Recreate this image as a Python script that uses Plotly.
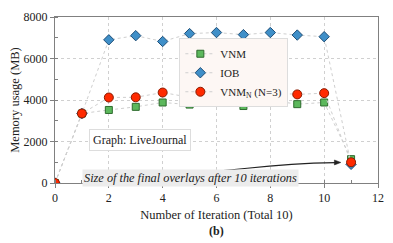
import plotly.graph_objects as go

iterations = [0, 1, 2, 3, 4, 5, 6, 7, 8, 9, 10, 11]
vnm = [0, 3350, 3520, 3670, 3880, 3780, 3870, 3710, 3990, 3800, 3880, 1150]
iob = [0, 3350, 6900, 7100, 6820, 7200, 7250, 7150, 7250, 7130, 7050, 900]
vnm_n = [0, 3350, 4120, 4130, 4360, 4130, 4130, 4270, 4360, 4270, 4330, 1000]

FONT = "Liberation Serif, DejaVu Serif, serif"
line_style = dict(color="#cfcfcf", width=1, dash="dot")

fig = go.Figure()
fig.add_trace(go.Scatter(x=iterations, y=vnm, mode="lines+markers", name="VNM",
                         line=line_style,
                         marker=dict(symbol="square", size=7, color="#5cb85c",
                                     line=dict(color="#2e6b2e", width=1))))
fig.add_trace(go.Scatter(x=iterations, y=iob, mode="lines+markers", name="IOB",
                         line=line_style,
                         marker=dict(symbol="diamond", size=8, color="#3f8fc8",
                                     line=dict(color="#1f4f78", width=1))))
fig.add_trace(go.Scatter(x=iterations, y=vnm_n, mode="lines+markers",
                         name="VNM<sub>N</sub> (N=3)",
                         line=line_style,
                         marker=dict(symbol="circle", size=9, color="#ff2a00",
                                     line=dict(color="#8a1a00", width=1))))

# curved arrow with a filled head
fig.add_shape(type="path", xref="x", yref="y",
              path="M 5.1,520 C 7.0,560 7.5,930 10.42,985",
              line=dict(color="#222222", width=1.2))
fig.add_shape(type="path", xref="x", yref="y",
              path="M 10.62,990 L 10.38,870 L 10.38,1110 Z",
              fillcolor="#222222", line=dict(color="#222222", width=0.5))

fig.add_annotation(x=5.05, y=230, xref="x", yref="y",
                   text="<i>Size of the final overlays after 10 iterations</i>",
                   showarrow=False, font=dict(family=FONT, size=12.3, color="#222222"),
                   bgcolor="#ececec", borderpad=1)
fig.add_annotation(x=3.15, y=2080, xref="x", yref="y", text="Graph: LiveJournal",
                   showarrow=False, font=dict(family=FONT, size=12, color="#222222"),
                   bgcolor="white", bordercolor="#dddddd", borderwidth=1, borderpad=3)
fig.add_annotation(x=0.5, y=-0.235, xref="paper", yref="paper", text="<b>(b)</b>",
                   showarrow=False, font=dict(family=FONT, size=12, color="#222222"),
                   yanchor="top")

axis_common = dict(showline=True, linecolor="#808080", linewidth=1, mirror=True,
                   showgrid=True, gridcolor="#d0d0d0", griddash="dot", gridwidth=1,
                   zeroline=False, ticks="outside", ticklen=4, tickcolor="#808080",
                   ticklabeloverflow="allow",
                   tickfont=dict(family=FONT, size=12, color="#222222"))

fig.update_layout(
    width=393, height=243,
    margin=dict(l=47, r=23, t=2, b=68),
    paper_bgcolor="white", plot_bgcolor="white",
    font=dict(family=FONT, size=12, color="#222222"),
    xaxis=dict(range=[0, 12], dtick=2, title=dict(text="Number of Iteration (Total 10)",
               font=dict(family=FONT, size=12.5), standoff=5),
               minor=dict(dtick=1, ticks="inside", ticklen=3, tickcolor="#808080", showgrid=False),
               **axis_common),
    yaxis=dict(range=[0, 8000], dtick=2000, title=dict(text="Memory usage (MB)",
               font=dict(family=FONT, size=12.5), standoff=3),
               minor=dict(dtick=1000, ticks="inside", ticklen=3, tickcolor="#808080", showgrid=False),
               **axis_common),
    legend=dict(x=0.385, y=0.872, xanchor="left", yanchor="top",
                bgcolor="#fdf7f4", bordercolor="#dddddd", borderwidth=1,
                font=dict(family=FONT, size=11, color="#222222"),
                itemwidth=30, tracegroupgap=0),
    showlegend=True,
)

fig.write_html("out.html")
